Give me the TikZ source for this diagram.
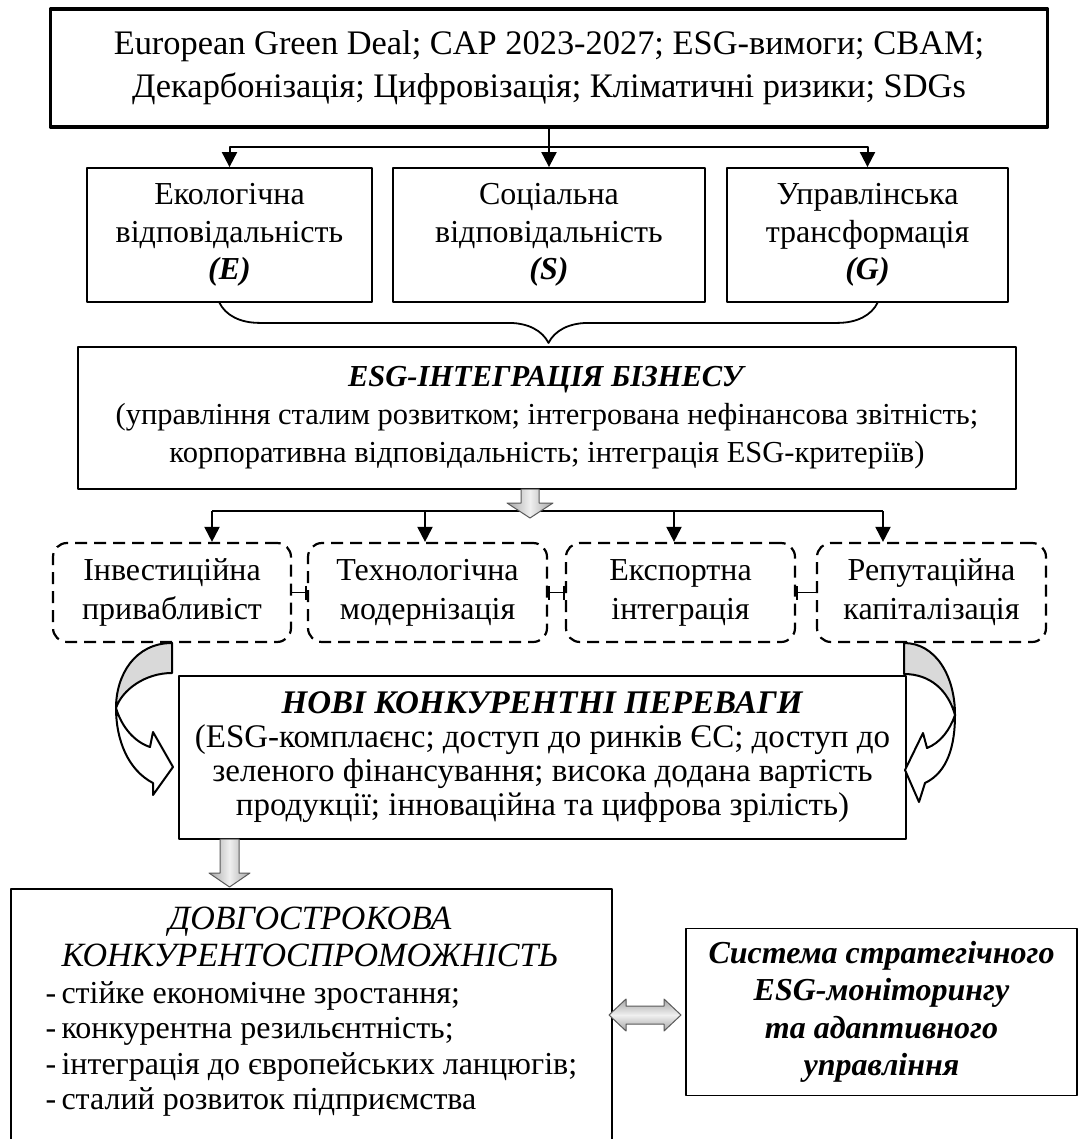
\documentclass[tikz,border=0pt]{standalone}
\usepackage{fontspec}
\setmainfont{Liberation Serif}
\usetikzlibrary{arrows.meta,decorations.pathreplacing}
\tikzset{box/.style={draw=black,line width=1.8pt,align=center,inner sep=0pt},
 dbox/.style={draw=black,line width=2.2pt,dash pattern=on 12pt off 7pt,rounded corners=14pt,align=center,inner sep=0pt},
 arr/.style={draw=black,line width=2pt,-{Triangle[length=15pt,width=15pt]}},
 bigarr/.style={draw=gray!70!black,line width=1pt,left color=gray!70,right color=gray!70,middle color=gray!12},
 curv/.style={draw=black,line width=2pt},
 tiny/.style={draw=black,line width=1.6pt},
 every picture/.style={line join=round}}
\newcommand{\fsTop}{\fontsize{34.4}{43}\selectfont}
\newcommand{\fsBox}{\fontsize{32}{37.5}\selectfont}
\newcommand{\fsDash}{\fontsize{32}{39}\selectfont}
\newcommand{\fsEsg}{\fontsize{30.5}{38}\selectfont}
\newcommand{\fsAdv}{\fontsize{33}{34}\selectfont}
\begin{document}
\begin{tikzpicture}[x=1pt,y=-1pt]
\useasboundingbox (0,0) rectangle (1080,1139);
% top level: drivers
\node[box,line width=3.5pt,minimum width=997pt,minimum height=118pt,font=\fsTop] (src) at (549,68)
 {European Green Deal; CAP 2023-2027; ESG-вимоги; CBAM;\\Декарбонізація; Цифровізація; Кліматичні ризики; SDGs};
\node[box,minimum width=285pt,minimum height=134pt,font=\fsBox] (eco) at (229.5,235) {Екологічна\\відповідальність\\\textbf{\textit{(E)}}};
\node[box,minimum width=312pt,minimum height=134pt,font=\fsBox] (soc) at (549,235) {Соціальна\\відповідальність\\\textbf{\textit{(S)}}};
\node[box,minimum width=281pt,minimum height=134pt,font=\fsBox] (gov) at (867.5,235) {Управлінська\\трансформація\\\textbf{\textit{(G)}}};
\coordinate (j1) at (549,147);
\draw[arr] (src.south) -- (soc.north);
\draw[arr] (j1) -| (eco.north);
\draw[arr] (j1) -| (gov.north);
\draw[decorate,decoration={brace,amplitude=40pt,aspect=0.5},line width=1.8pt] ([xshift=10pt]gov.south) -- ([xshift=-10pt]eco.south);
% integration
\node[box,minimum width=938pt,minimum height=142pt,font=\fsEsg] (esg) at (547,418)
 {\textbf{\textit{ESG-ІНТЕГРАЦІЯ БІЗНЕСУ}}\\(управління сталим розвитком; інтегрована нефінансова звітність;\\корпоративна відповідальність; інтеграція ESG-критеріїв)};
\node[dbox,minimum width=238pt,minimum height=99pt,font=\fsDash] (inv) at (172,592.5) {Інвестиційна\\привабливіст};
\node[dbox,minimum width=239pt,minimum height=99pt,font=\fsDash] (tech) at (427.5,592.5) {Технологічна\\модернізація};
\node[dbox,minimum width=229pt,minimum height=99pt,font=\fsDash] (exp) at (680.5,592.5) {Експортна\\інтеграція};
\node[dbox,minimum width=229pt,minimum height=99pt,font=\fsDash] (rep) at (931.5,592.5) {Репутаційна\\капіталізація};
\coordinate (d1) at (212,511);
\coordinate (d2) at (425,511);
\coordinate (d3) at (674,511);
\coordinate (d4) at (883,511);
\draw[line width=2pt] (d1) -- (d4);
\foreach \d/\b in {d1/inv,d2/tech,d3/exp,d4/rep}
 \draw[arr] (\d) -- (\d |- \b.north);
\coordinate (g1) at (530,489);
\path[bigarr] ([xshift=-9pt]g1) -- ++(0,14) -- ++(-14,0) -- ++(23,15) -- ++(23,-15) -- ++(-14,0) -- ++(0,-14) -- cycle;
\draw[tiny,-{Bar[width=14pt]}] (inv.east) -- (tech.west);
\draw[tiny,{Bar[width=14pt]}-{Bar[width=14pt]}] (tech.east) -- (exp.west);
\draw[tiny,{Bar[width=14pt]}-] (exp.east) -- (rep.west);
% competitive advantages
\node[box,minimum width=727pt,minimum height=163pt,font=\fsAdv] (adv) at (542.5,757.5)
 {\textbf{\textit{НОВІ КОНКУРЕНТНІ ПЕРЕВАГИ}}\\(ESG-комплаєнс; доступ до ринків ЄС; доступ до\\зеленого фінансування; висока додана вартість\\продукції; інноваційна та цифрова зрілість)};
\path[curv,fill=gray!30] (172,643) .. controls (135,643) and (116,675) .. (116,708) .. controls (122,690) and (145,673) .. (172,673) -- cycle;
\path[curv,fill=white] (116,708) .. controls (122,728) and (135,742) .. (150,747) -- (153,732) -- (173,767) -- (153,795) -- (153,783) .. controls (128,770) and (116,740) .. (116,708) -- cycle;
\path[curv,fill=gray!30] (904,643) .. controls (935,643) and (955,675) .. (955,715) .. controls (948,690) and (930,674) .. (904,674) -- cycle;
\path[curv,fill=white] (955,715) .. controls (950,730) and (940,743) .. (927,748) -- (923,733) -- (905,770) -- (919,802) -- (925,783) .. controls (948,772) and (955,745) .. (955,715) -- cycle;
% long-term result
\coordinate (g2) at (229.5,839);
\path[bigarr] ([xshift=-9.5pt]g2) -- ++(0,34) -- ++(-11,0) -- ++(20.5,14) -- ++(20.5,-14) -- ++(-11,0) -- ++(0,-34) -- cycle;
\node[box,anchor=north west,minimum width=601pt,minimum height=270pt] (lng) at (10,888) {};
\node[font=\fontsize{34}{37}\selectfont\itshape,align=center] (lngt) at (310,936.5) {ДОВГОСТРОКОВА\\КОНКУРЕНТОСПРОМОЖНІСТЬ};
\node[font=\fontsize{32}{35.5}\selectfont,align=left,anchor=west] (lngl) at (42,1049) {-\,стійке економічне зростання;\\-\,конкурентна резильєнтність;\\-\,інтеграція до європейських ланцюгів;\\-\,сталий розвиток підприємства};
\node[box,minimum width=391pt,minimum height=167pt,font=\fsBox] (mon) at (881.5,1012)
 {\textbf{\textit{Система стратегічного}}\\\textbf{\textit{ESG-моніторингу}}\\\textbf{\textit{та адаптивного}}\\\textbf{\textit{управління}}};
\coordinate (h1) at (609,1015);
\path[bigarr,top color=gray!70,bottom color=gray!70,middle color=gray!12] (h1) -- ++(17,-16) -- ++(0,7) -- ++(38,0) -- ++(0,-7) -- ++(17,16) -- ++(-17,16) -- ++(0,-7) -- ++(-38,0) -- ++(0,7) -- cycle;
\end{tikzpicture}
\end{document}
